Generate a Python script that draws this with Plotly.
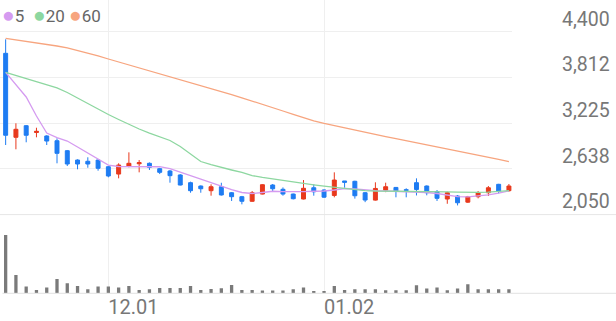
import plotly.graph_objects as go

dates = [
    "2022-11-17", "2022-11-18", "2022-11-21", "2022-11-22", "2022-11-23", "2022-11-24", "2022-11-25",
    "2022-11-28", "2022-11-29", "2022-11-30",
    "2022-12-01", "2022-12-02", "2022-12-05", "2022-12-06", "2022-12-07", "2022-12-08", "2022-12-09",
    "2022-12-12", "2022-12-13", "2022-12-14", "2022-12-15", "2022-12-16", "2022-12-19", "2022-12-20",
    "2022-12-21", "2022-12-22", "2022-12-23", "2022-12-26", "2022-12-27", "2022-12-28", "2022-12-29",
    "2023-01-02", "2023-01-03", "2023-01-04", "2023-01-05", "2023-01-06", "2023-01-09", "2023-01-10",
    "2023-01-11", "2023-01-12", "2023-01-13", "2023-01-16", "2023-01-17", "2023-01-18", "2023-01-19",
    "2023-01-20", "2023-01-25", "2023-01-26", "2023-01-27", "2023-01-30",
]

opens = [4122, 3043, 3192, 3105, 3060, 2999, 2871, 2751, 2735, 2751,
         2665, 2571, 2674, 2703, 2709, 2640, 2610, 2559, 2460, 2417,
         2357, 2408, 2331, 2280, 2221, 2314, 2430, 2375, 2314, 2250,
         2395, 2366, 2296, 2482, 2478, 2331, 2236, 2364, 2399, 2370,
         2460, 2417, 2344, 2250, 2289, 2210, 2280, 2331, 2439, 2357]
highs = [4302, 3223, 3200, 3166, 3070, 3030, 2880, 2760, 2786, 2760,
         2675, 2709, 2850, 2751, 2720, 2650, 2623, 2570, 2473, 2425,
         2439, 2459, 2340, 2290, 2353, 2440, 2443, 2399, 2320, 2494,
         2439, 2375, 2593, 2482, 2485, 2340, 2465, 2460, 2405, 2388,
         2516, 2425, 2366, 2344, 2300, 2290, 2353, 2417, 2445, 2443]
lows = [2944, 2889, 2979, 3043, 2944, 2709, 2674, 2632, 2652, 2614,
        2529, 2516, 2657, 2593, 2623, 2571, 2460, 2425, 2331, 2331,
        2293, 2295, 2225, 2182, 2215, 2310, 2340, 2293, 2245, 2245,
        2293, 2265, 2272, 2395, 2255, 2210, 2230, 2338, 2272, 2272,
        2296, 2298, 2225, 2189, 2168, 2200, 2259, 2289, 2323, 2344]
closes = [3069, 3146, 3069, 3120, 2995, 2837, 2700, 2700, 2700, 2645,
          2546, 2687, 2709, 2717, 2657, 2593, 2550, 2430, 2357, 2382,
          2408, 2302, 2280, 2221, 2331, 2434, 2382, 2314, 2254, 2388,
          2343, 2274, 2494, 2465, 2292, 2237, 2386, 2408, 2351, 2362,
          2373, 2331, 2259, 2331, 2202, 2280, 2331, 2395, 2351, 2417]
volumes = [583000, 183000, 67000, 33000, 57000, 143000, 100000, 73000, 40000, 67000,
           67000, 57000, 73000, 33000, 40000, 53000, 53000, 53000, 73000, 33000,
           43000, 50000, 83000, 33000, 33000, 27000, 27000, 27000, 40000, 57000,
           23000, 23000, 73000, 33000, 40000, 40000, 40000, 30000, 30000, 30000,
           80000, 47000, 57000, 30000, 47000, 90000, 40000, 40000, 40000, 40000]

ma5 = [3878, 3715, 3561, 3317, 3098, 3040, 2995, 2918, 2841, 2764,
       2687, 2668, 2665, 2665, 2668, 2665, 2642, 2597, 2552, 2501,
       2456, 2411, 2372, 2334, 2321, 2334, 2350, 2346, 2342, 2346,
       2350, 2353, 2366, 2385, 2379, 2366, 2359, 2353, 2350, 2346,
       2342, 2334, 2321, 2298, 2282, 2279, 2289, 2304, 2327, 2356]
ma20 = [3878, 3837, 3799, 3763, 3724, 3677, 3619, 3548, 3471, 3400,
        3336, 3272, 3208, 3150, 3098, 3053, 3002, 2925, 2828, 2732,
        2693, 2655, 2623, 2591, 2552, 2527, 2507, 2485, 2465, 2449,
        2433, 2417, 2402, 2385, 2368, 2359, 2353, 2350, 2349, 2348,
        2346, 2345, 2344, 2341, 2339, 2336, 2336, 2340, 2348, 2357]
ma60 = [4315, 4297, 4279, 4260, 4239, 4216, 4191, 4158, 4126, 4088,
        4049, 4011, 3972, 3937, 3901, 3865, 3828, 3790, 3750, 3710,
        3670, 3630, 3590, 3551, 3511, 3471, 3426, 3381, 3337, 3294,
        3255, 3223, 3193, 3164, 3134, 3105, 3076, 3051, 3025, 2999,
        2974, 2948, 2922, 2897, 2870, 2843, 2816, 2787, 2759, 2730]

price_ticks = [2050, 2637.5, 3225, 3812.5, 4400]
price_tick_text = ["2,050", "2,638", "3,225", "3,812", "4,400"]
date_ticks = ["2022-12-01", "2023-01-02"]
date_tick_text = ["12.01", "01.02"]

ma_names = ["5", "20", "60"]
ma_colors = ["#D59BF0", "#8DD7A0", "#F7A57F"]

RED = "#E8391D"
BLUE = "#1E7CF2"
GRID = "#EFEFEF"
FONT = "Roboto"

W, H = 616, 321
price_bottom = 1 - 214.6 / H
vol_bottom = 1 - 293.3 / H
x_right = 512 / W

fig = go.Figure()

fig.add_trace(go.Bar(
    x=dates, y=volumes, marker_color="#7A7A7A", marker_line_width=0,
    width=0.32, xaxis="x", yaxis="y", showlegend=False, hoverinfo="skip",
))

fig.add_trace(go.Candlestick(
    x=dates, open=opens, high=highs, low=lows, close=closes,
    xaxis="x2", yaxis="y2", whiskerwidth=0, showlegend=False,
    increasing=dict(line=dict(color=RED, width=1), fillcolor=RED),
    decreasing=dict(line=dict(color=BLUE, width=1), fillcolor=BLUE),
))

for name, vals, col in zip(ma_names, [ma5, ma20, ma60], ma_colors):
    fig.add_trace(go.Scatter(
        x=dates, y=vals, mode="lines", name=name,
        line=dict(color=col, width=1.3), xaxis="x2", yaxis="y2",
        showlegend=False, hoverinfo="skip",
    ))

# legend entries as text
legend_x = [0, 31, 67]
for name, col, lx in zip(ma_names, ma_colors, legend_x):
    fig.add_annotation(
        x=lx / W, y=1 - 15 / H, xref="paper", yref="paper",
        xanchor="left", yanchor="middle", showarrow=False,
        text=f"<span style='color:{col};font-size:21px'>●</span>{name}",
        font=dict(family=FONT, size=17, color="#666666"),
    )

fig.update_layout(
    width=W, height=H,
    margin=dict(l=0, r=0, t=0, b=0, autoexpand=False),
    paper_bgcolor="white", plot_bgcolor="white",
    boxgap=0.45,
    showlegend=False,
    xaxis=dict(
        domain=[0, x_right], type="category", range=[-0.55, 49.3],
        tickvals=date_ticks, ticktext=date_tick_text,
        ticklabelposition="outside right",
        tickfont=dict(family=FONT, size=20, color="#777777"),
        showgrid=True, gridcolor=GRID, gridwidth=1,
        zeroline=False, showline=False, ticks="",
        anchor="y", automargin=False,
    ),
    xaxis2=dict(
        domain=[0, x_right], type="category", matches="x", anchor="y2",
        tickvals=date_ticks, showticklabels=False,
        showgrid=True, gridcolor=GRID, gridwidth=1,
        zeroline=False, showline=False, ticks="", automargin=False,
        rangeslider=dict(visible=False),
    ),
    yaxis=dict(
        domain=[vol_bottom, price_bottom], range=[0, 787000],
        showgrid=False, showticklabels=False, zeroline=False, showline=False,
        anchor="x", automargin=False,
    ),
    yaxis2=dict(
        domain=[price_bottom, 1], range=[2050, 4807], side="right", anchor="x2",
        tickvals=price_ticks, ticktext=price_tick_text,
        tickfont=dict(family=FONT, size=19.5, color="#777777"),
        ticklabelstandoff=49, ticklabelshift=-13,
        showgrid=True, gridcolor=GRID, gridwidth=1,
        zeroline=False, showline=False, ticks="", automargin=False,
    ),
    shapes=[
        dict(type="line", xref="paper", yref="paper", x0=0, x1=1,
             y0=price_bottom, y1=price_bottom, line=dict(color="#E6E6E6", width=1)),
        dict(type="line", xref="paper", yref="paper", x0=0.004, x1=1,
             y0=vol_bottom, y1=vol_bottom, line=dict(color="#E2E2E2", width=1)),
    ],
)

fig.write_html("out.html")
